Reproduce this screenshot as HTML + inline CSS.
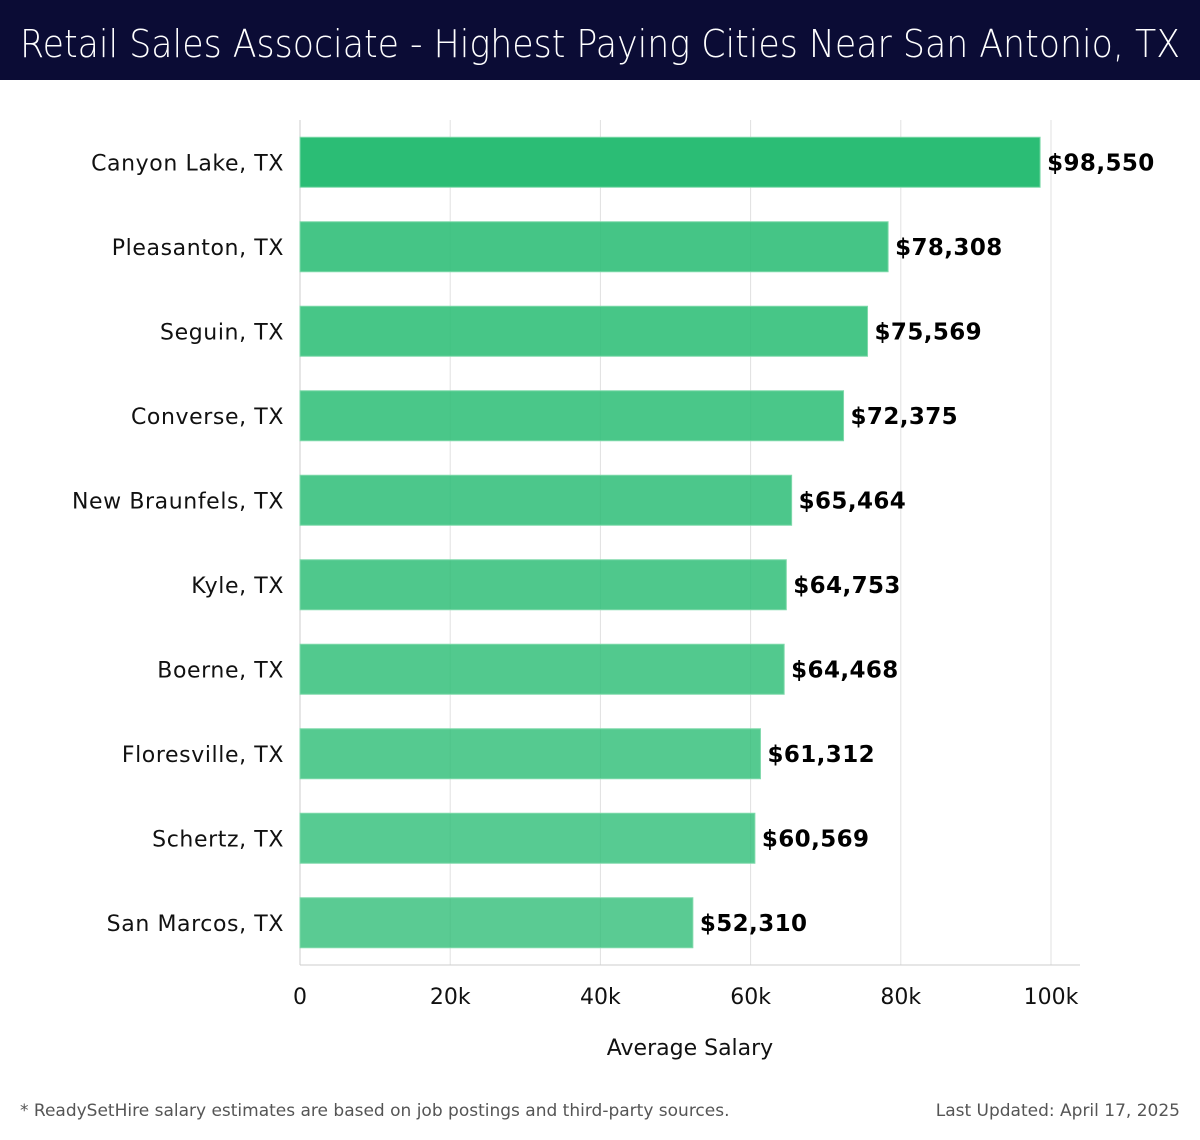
<!DOCTYPE html>
<html><head><meta charset="utf-8"><style>
body{margin:0;width:1200px;height:1140px;background:#fff;font-family:"DejaVu Sans","Liberation Sans",sans-serif;overflow:hidden}
#titlebar{position:absolute;left:0;top:0;width:1200px;height:80px;background:#0b0c35}
.foot{position:absolute;top:1101px;font-size:17px;color:#555}
</style></head><body>
<div id="titlebar"></div>
<svg id="chart" width="1200" height="1140" style="position:absolute;left:0;top:0">
<text x="20" y="57" font-size="38" fill="#fff" font-weight="200" textLength="1160" lengthAdjust="spacingAndGlyphs">Retail Sales Associate - Highest Paying Cities Near San Antonio, TX</text>
</svg>
<div class="foot" style="left:20px">* ReadySetHire salary estimates are based on job postings and third-party sources.</div>
<div class="foot" style="right:20px">Last Updated: April 17, 2025</div>
<script>
const cities=["Canyon Lake, TX","Pleasanton, TX","Seguin, TX","Converse, TX","New Braunfels, TX","Kyle, TX","Boerne, TX","Floresville, TX","Schertz, TX","San Marcos, TX"];
const salaries=[98550,78308,75569,72375,65464,64753,64468,61312,60569,52310];
const ticks=[0,20000,40000,60000,80000,100000];
const tickLabels=["0","20k","40k","60k","80k","100k"];
const NS="http://www.w3.org/2000/svg";
const svg=document.getElementById('chart');
const x0=300,x1=1051,top0=120,bottom=965;
const xs=v=>x0+(x1-x0)*v/100000;
const band=(bottom-top0)/cities.length;
const ys=i=>top0+band*i+band/2;
function mk(t,a,txt){const e=document.createElementNS(NS,t);for(const k in a)e.setAttribute(k,a[k]);if(txt!==undefined)e.textContent=txt;svg.appendChild(e);return e;}
ticks.forEach((t,i)=>{
 const g=mk('line',{x1:xs(t),x2:xs(t),y1:top0,y2:bottom,stroke:'#e0e0e0','stroke-width':1});
 
 
 const tl=mk('text',{x:xs(t),y:1004,'text-anchor':'middle','font-size':22,fill:'#111'},tickLabels[i]);
 
 
});
const ax=mk('line',{x1:x0,x2:1080,y1:bottom,y2:bottom,stroke:'#ccc'});


const ay=mk('line',{x1:x0,x2:x0,y1:top0,y2:bottom,stroke:'#ccc'});


cities.forEach((c,i)=>{
 const y=ys(i);
 const op=i===0?1:0.88-0.1*(i-1)/(cities.length-2);
 const r=mk('rect',{x:x0,y:y-25,width:xs(salaries[i])-x0,height:50,fill:'#2bbd75','fill-opacity':op,stroke:'#7fd9aa','stroke-width':1});
 
 
 const l=mk('text',{x:284,y:y+8,'text-anchor':'end','font-size':22,fill:'#111','letter-spacing':'0.6'},c);
 
 
 const v=mk('text',{x:xs(salaries[i])+7,y:y+8,'font-size':23,'font-weight':'bold',fill:'#000','letter-spacing':'0.4'},'$'+salaries[i].toLocaleString('en-US'));
 
 
});
const at=mk('text',{x:(x0+1080)/2,y:1055,'text-anchor':'middle','font-size':22,fill:'#111'},'Average Salary');


</script>
</body></html>
